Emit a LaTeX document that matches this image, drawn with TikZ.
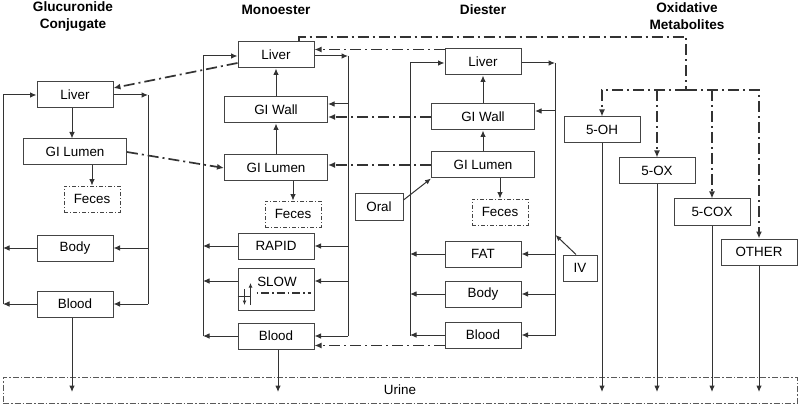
\documentclass[tikz,border=0pt]{standalone}
\usepackage{fontspec}
\setmainfont{Liberation Sans}
\usetikzlibrary{arrows.meta,calc}
\definecolor{lc}{HTML}{333333}
\definecolor{bc}{HTML}{444444}
\begin{document}
\begin{tikzpicture}[x=1pt,y=-1pt,
 txt/.style={font=\fontsize{13.4}{15}\selectfont},
 box/.style={draw=bc, line width=1pt, fill=white, minimum width=76pt, minimum height=26pt, inner sep=0pt, txt},
 wbox/.style={box, minimum width=103pt},
 fbox/.style={box, minimum width=56pt, dash pattern=on 4pt off 2pt on 1pt off 2pt, line width=0.8pt},
 ln/.style={draw=lc, line width=1pt},
 arr/.style={ln, -{Latex[length=6.5pt,width=5.5pt]}},
 sarr/.style={ln, line width=0.9pt, -{Latex[length=4.5pt,width=4pt]}},
 dd/.style={draw=lc, line width=1.7pt, dash pattern=on 11pt off 4pt on 2pt off 4pt},
 dda/.style={dd, -{Latex[length=7pt,width=6pt]}},
 ttl/.style={font=\bfseries\fontsize{13.6}{17}\selectfont, align=center},
]
\useasboundingbox (0,0) rectangle (800,406);

% titles
\node[ttl] (t1) at (73,16.5) {Glucuronide\\Conjugate};
\node[ttl] (t2) at (276,10) {Monoester};
\node[ttl] (t3) at (483,10) {Diester};
\node[ttl] (t4) at (687,16) {Oxidative\\Metabolites};

% urine
\node[draw=gray!70!black, line width=0.9pt, dash pattern=on 6pt off 2pt on 1.5pt off 2pt,
      minimum width=794pt, minimum height=26pt, inner sep=0pt, txt] (urine) at (400,390) {Urine};
\coordinate (ubot) at (0,392);

% ---------------- Glucuronide conjugate
\node[box] (gliver) at (75,95) {Liver};
\node[wbox] (glumen) at (75,152) {GI Lumen};
\node[fbox] (gfeces) at (92,199) {Feces};
\node[box] (gbody) at (75,248) {Body};
\node[box] (gblood) at (75,304) {Blood};
\coordinate (gLt) at (3,95);
\coordinate (gLb) at (3,304);
\coordinate (gRt) at (148,95);
\coordinate (gRb) at (148,304);
\draw[ln] (gLt) -- (gLb);
\draw[ln] (gRt) -- (gRb);
\draw[arr] (gLt) -- (gliver.west);
\draw[arr] (gbody.west) -- (gbody.west -| gLt);
\draw[arr] (gblood.west) -- (gLb);
\draw[arr] (gliver.east) -- (gRt);
\draw[arr] (gbody.east -| gRt) -- (gbody.east);
\draw[arr] (gRb) -- (gblood.east);
\draw[arr] ([xshift=-3pt]gliver.south) -- ([xshift=-3pt]gliver.south |- glumen.north);
\draw[arr] (glumen.south -| gfeces) -- (gfeces.north);
\draw[arr] ([xshift=-3pt]gblood.south) -- ([xshift=-3pt]gblood.south |- ubot);

% ---------------- Monoester
\node[box] (mliver) at (276,55) {Liver};
\node[wbox] (mwall) at (276,110) {GI Wall};
\node[wbox] (mlumen) at (276,168) {GI Lumen};
\node[fbox] (mfeces) at (293,214) {Feces};
\node[box] (mrapid) at (276,246) {RAPID};
\node[box, minimum height=42pt] (mslow) at (276,289) {};
\node[txt] (slowt) at (277,282) {SLOW};
\node[box] (mblood) at (276,336) {Blood};
\coordinate (mLt) at (203,56);
\coordinate (mLb) at (203,336);
\coordinate (mRt) at (348,56);
\coordinate (mRb) at (348,336);
\coordinate (slowy) at (0,281);
\draw[ln] (mLt) -- (mLb);
\draw[ln] (mRt) -- (mRb);
\draw[arr] (mLt) -- (mLt -| mliver.west);
\draw[arr] (mrapid.west) -- (mrapid.west -| mLt);
\draw[arr] (slowy -| mslow.west) -- (slowy -| mLt);
\draw[arr] (mblood.west) -- (mLb);
\draw[arr] (mRt -| mliver.east) -- (mRt);
\draw[arr] ([yshift=6pt]mwall.east -| mRt) -- ([yshift=6pt]mwall.east);
\draw[arr] (mrapid.east -| mRt) -- (mrapid.east);
\draw[arr] (slowy -| mRt) -- (slowy -| mslow.east);
\draw[arr] (mRb) -- (mblood.east);
\draw[arr] (mwall.north) -- (mliver.south);
\draw[arr] (mlumen.north) -- (mwall.south);
\draw[arr] (mlumen.south -| mfeces) -- (mfeces.north);
\draw[arr] ([xshift=2pt]mblood.south) -- ([xshift=2pt]mblood.south |- ubot);
% membrane symbol in SLOW
\draw[ln, line width=0.9pt] ($(mslow.west)+(0,7)$) -- ($(mslow.west)+(12,7)$);
\draw[sarr] ($(mslow.west)+(7,0)$) -- ($(mslow.west)+(7,16)$);
\draw[sarr] ($(mslow.west)+(13,16)$) -- ($(mslow.west)+(13,-6)$);
\draw[draw=lc, line width=1.4pt, dash pattern=on 1.5pt off 3pt on 8pt off 3pt] ($(mslow.west)+(19,4)$) -- ($(mslow.west)+(73,4)$);

% ---------------- Diester
\node[box] (dliver) at (483,62) {Liver};
\node[wbox] (dwall) at (483,117) {GI Wall};
\node[wbox] (dlumen) at (483,165) {GI Lumen};
\node[fbox] (dfeces) at (500,212) {Feces};
\node[box, minimum width=48pt] (oral) at (379,207) {Oral};
\node[box] (dfat) at (483,254) {FAT};
\node[box] (dbody) at (483,294) {Body};
\node[box] (dblood) at (483,335) {Blood};
\node[box, minimum width=34pt] (iv) at (580,268) {IV};
\coordinate (dLt) at (410,63);
\coordinate (dLb) at (410,336);
\coordinate (dRt) at (555,63);
\coordinate (dRb) at (555,336);
\coordinate (ivend) at (555.5,235);
\draw[ln] (dLt) -- (dLb);
\draw[ln] (dRt) -- (dRb);
\draw[arr] (dLt) -- (dLt -| dliver.west);
\draw[arr] (dfat.west) -- (dfat.west -| dLt);
\draw[arr] (dbody.west) -- (dbody.west -| dLt);
\draw[arr] (dblood.west) -- (dblood.west -| dLt);
\draw[arr] (dRt -| dliver.east) -- (dRt);
\draw[arr] ([yshift=6pt]dwall.east -| dRt) -- ([yshift=6pt]dwall.east);
\draw[arr] (dfat.east -| dRt) -- (dfat.east);
\draw[arr] (dbody.east -| dRt) -- (dbody.east);
\draw[arr] (dblood.east -| dRt) -- (dblood.east);
\draw[arr] (dwall.north) -- (dliver.south);
\draw[arr] (dlumen.north) -- (dwall.south);
\draw[arr] (dlumen.south -| dfeces) -- (dfeces.north);
\draw[ln, -{Latex[length=6pt,width=5pt]}] ([yshift=7pt]oral.east) -- (dlumen.south west);
\draw[ln, -{Latex[length=6pt,width=5pt]}] ([xshift=-4pt]iv.north) -- (ivend);

% ---------------- Oxidative metabolites
\node[box] (oh) at (602,130) {5-OH};
\node[box] (ox) at (657,171) {5-OX};
\node[box] (cox) at (712,212) {5-COX};
\node[box] (other) at (759,252) {OTHER};
\draw[arr] (oh.south) -- (oh.south |- ubot);
\draw[arr] (ox.south) -- (ox.south |- ubot);
\draw[arr] (cox.south) -- (cox.south |- ubot);
\draw[arr] (other.south) -- (other.south |- ubot);

% ---------------- dash-dot transfers
\coordinate (topr) at (686,37);
\coordinate (hub) at (686,90);
\draw[dd] ([xshift=23pt]mliver.north) |- (topr) -- (hub);
\draw[dda] (hub) -| (oh.north);
\draw[dda] (hub) -| (other.north);
\draw[dda] (ox.north |- hub) -- (ox.north);
\draw[dda] (cox.north |- hub) -- (cox.north);
\draw[dda] ([yshift=-1pt]dliver.north west) -- ([yshift=-1pt]dliver.north west -| mliver.east);
\draw[dda] ([yshift=-8pt]mliver.west) -- ([yshift=7pt]gliver.east);
\draw[dda] (glumen.east) -- (mlumen.west);
\draw[dda] (dwall.west) -- (dwall.west -| mwall.east);
\draw[dda] (dlumen.west) -- (dlumen.west -| mlumen.east);
\draw[dda] ([yshift=3pt]dblood.south west) -- ([yshift=3pt]dblood.south west -| mblood.east);
\end{tikzpicture}
\end{document}
